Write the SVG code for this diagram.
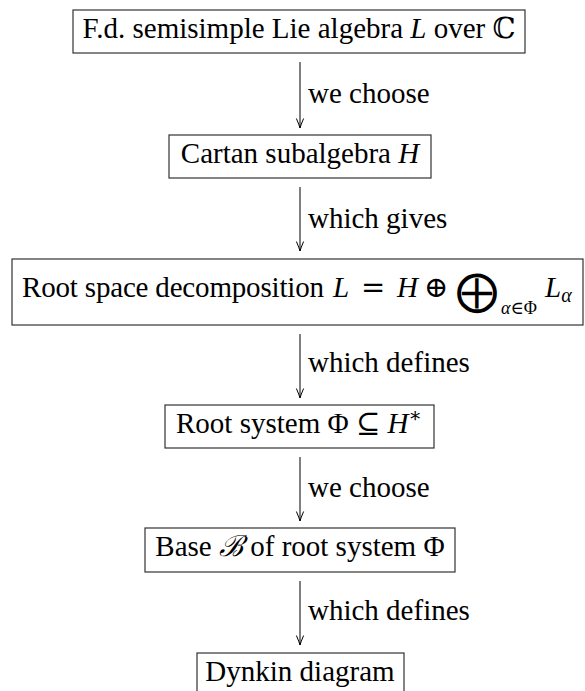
<svg xmlns="http://www.w3.org/2000/svg" width="585" height="691" viewBox="0 0 585 691">
<defs>
<style>
.box{fill:#fff;stroke:#333;stroke-width:1.2}
.t{font-family:"Liberation Serif","DejaVu Serif",serif;font-size:29px;fill:#000}
.i{font-style:italic}
.m{font-family:"DejaVu Serif","Liberation Serif",serif}
.lbl{font-family:"Liberation Serif","DejaVu Serif",serif;font-size:29px;fill:#000}
.edge{stroke:#000;stroke-width:1;fill:none}
</style>
<marker id="ah" markerUnits="userSpaceOnUse" markerWidth="14" markerHeight="10" viewBox="-11 -5 12 10" refX="0" refY="0" orient="auto">
<path d="M -9.5 -3.6 Q -3 -0.8 0 0 Q -3 0.8 -9.5 3.6" fill="none" stroke="#000" stroke-width="1"/>
</marker>
</defs>
<rect width="585" height="691" fill="#fff"/>
<g id="n1">
<rect class="box" x="73" y="10" width="452" height="43"/>
<text class="t" x="299" y="38" text-anchor="middle">F.d. semisimple Lie algebra <tspan class="i">L</tspan> over <tspan class="m">ℂ</tspan></text>
</g>
<g id="n2">
<rect class="box" x="169" y="135" width="262" height="43"/>
<text class="t" x="300" y="163" text-anchor="middle">Cartan subalgebra <tspan class="i">H</tspan></text>
</g>
<g id="n3">
<rect class="box" x="12" y="259" width="571" height="66"/>
<text class="t" x="22" y="297" textLength="302" lengthAdjust="spacing">Root space decomposition</text>
<text class="t" x="333" y="297"><tspan class="i">L</tspan><tspan x="361" class="m">=</tspan><tspan x="397" class="i">H</tspan><tspan x="424" class="m">⊕</tspan></text>
<text class="t" x="477" y="305" text-anchor="middle" style="font-family:'DejaVu Sans',sans-serif;font-size:42px">⨁</text>
<text class="t" x="501" y="314" style="font-size:18px"><tspan class="i">α</tspan><tspan class="m">∈</tspan>Φ</text>
<text class="t" x="545" y="297"><tspan class="i">L</tspan><tspan class="i" style="font-size:20px" dy="5">α</tspan></text>
</g>
<g id="n4">
<rect class="box" x="165" y="405" width="269" height="43"/>
<text class="t" x="299" y="433" text-anchor="middle">Root system Φ <tspan class="m">⊆</tspan> <tspan class="i">H</tspan><tspan style="font-size:20px" dy="-11">∗</tspan></text>
</g>
<g id="n5">
<rect class="box" x="145" y="528" width="310" height="44"/>
<text class="t" x="300" y="556" text-anchor="middle">Base <tspan class="m i">ℬ</tspan> of root system Φ</text>
</g>
<g id="n6">
<rect class="box" x="197" y="653" width="207" height="43"/>
<text class="t" x="300" y="681" text-anchor="middle">Dynkin diagram</text>
</g>
<g id="edges">
<line class="edge" x1="300" y1="62" x2="300" y2="128" marker-end="url(#ah)"/>
<text class="lbl" x="308" y="103">we choose</text>
<line class="edge" x1="300" y1="187" x2="300" y2="251" marker-end="url(#ah)"/>
<text class="lbl" x="308" y="228">which gives</text>
<line class="edge" x1="300" y1="334" x2="300" y2="398" marker-end="url(#ah)"/>
<text class="lbl" x="308" y="372">which defines</text>
<line class="edge" x1="300" y1="457" x2="300" y2="521" marker-end="url(#ah)"/>
<text class="lbl" x="308" y="497">we choose</text>
<line class="edge" x1="300" y1="581" x2="300" y2="645" marker-end="url(#ah)"/>
<text class="lbl" x="308" y="620">which defines</text>
</g>
</svg>
